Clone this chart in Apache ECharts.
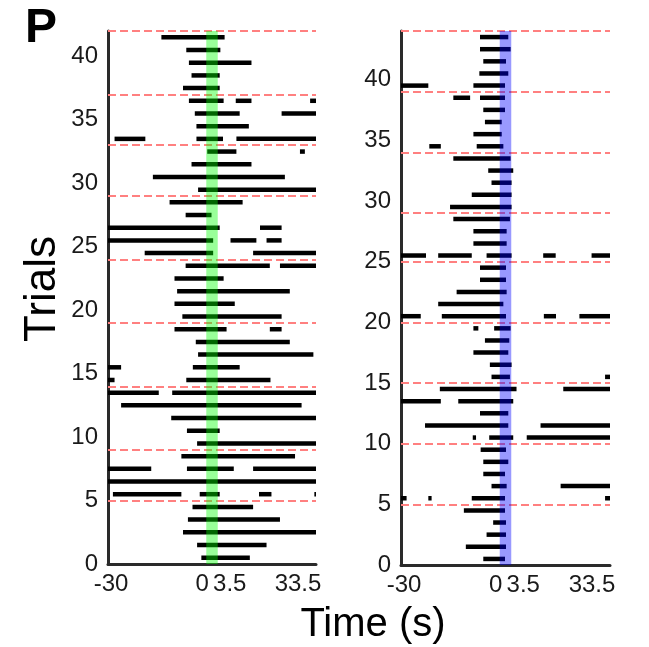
<!DOCTYPE html>
<html>
<head>
<meta charset="utf-8">
<script src="https://cdn.jsdelivr.net/npm/echarts@6/dist/echarts.min.js"></script>
<style>
  html, body {margin: 0; padding: 0; background: #fff;}
  #chart {width: 649px; height: 647px;}
</style>
</head>
<body>
<div id="chart"></div>
<script>
// 每行: [trial, start(s), end(s)]
const leftBouts = [
  [42, -13.7, 5.6],
  [41, -6.1, 4.3],
  [40, -5.3, 13.8],
  [39, -4.5, 4.1],
  [38, -7.1, 4.1],
  [37, -5.3, 5.3], [37, 9.0, 13.8], [37, 31.7, 33.5],
  [36, -3.5, 10.2], [36, 23.0, 33.5],
  [35, -3.0, 13.0],
  [34, -28.0, -18.6], [34, -3.0, 5.1], [34, 9.2, 33.5],
  [33, 0.3, 9.2], [33, 28.6, 30.1],
  [32, -4.5, 13.8],
  [31, -16.3, 24.0],
  [30, -2.5, 33.5],
  [29, -11.2, 11.1],
  [28, -6.3, 1.6],
  [27, -30, 4.1], [27, 16.4, 23.0],
  [26, -30, 2.1], [26, 7.4, 15.3], [26, 18.4, 23.0],
  [25, -18.8, 2.1], [25, 14.3, 33.5],
  [24, -6.3, 19.4], [24, 22.5, 33.5],
  [23, -9.7, 5.3],
  [22, -8.9, 25.5],
  [21, -9.7, 8.7],
  [20, -7.3, 23.0],
  [19, -9.7, 6.2], [19, 19.4, 23.0],
  [18, -3.2, 25.5],
  [17, -2.5, 32.7],
  [16, -30, -26.0], [16, -4.1, 10.2],
  [15, -30, -28.0], [15, -6.1, 19.6],
  [14, -30, -14.5], [14, -10.4, 33.5],
  [13, -26.0, 29.1],
  [12, -10.7, 33.5],
  [11, -5.9, 4.1],
  [10, -2.8, 33.5],
  [9, -7.6, 27.1],
  [8, -30, -16.8], [8, -5.9, 8.4], [8, 14.3, 33.5],
  [7, -30, 33.5],
  [6, -28.5, -7.6], [6, -2.0, 4.1], [6, 16.1, 19.9], [6, 33.0, 33.5],
  [5, -4.2, 14.3],
  [4, -5.6, 22.5],
  [3, -7.1, 33.5],
  [2, -2.8, 18.4],
  [1, -1.5, 13.3],
]

const rightBouts = [
  [44, -6.0, 2.6],
  [43, -6.0, 3.3],
  [42, -5.0, 1.9],
  [41, -6.2, 2.6],
  [40, -30, -21.7], [40, -8.0, 1.6],
  [39, -14.1, -9.0], [39, -6.0, 1.6],
  [38, -5.0, 1.6],
  [37, -4.5, 0.6],
  [36, -8.0, 0.6],
  [35, -21.4, -17.9], [35, -7.0, 1.1],
  [34, -14.1, 3.3],
  [33, -3.5, 4.1],
  [32, -2.5, 3.6],
  [31, -8.5, 3.6],
  [30, -15.1, 3.6],
  [29, -14.1, 3.1],
  [28, -8.0, 2.1],
  [27, -8.0, 2.1],
  [26, -30, -22.4], [26, -18.7, -8.5], [26, -4.0, 3.6], [26, 13.2, 17.0], [26, 27.9, 33.5],
  [25, -6.0, 1.9],
  [24, -6.0, 1.9],
  [23, -13.1, 2.1],
  [22, -18.7, 1.1],
  [21, -30, -24.0], [21, -17.6, 1.9], [21, 13.4, 17.1], [21, 24.2, 33.5],
  [20, -8.0, -6.5], [20, -1.7, 3.3],
  [19, -4.5, 2.9],
  [18, -8.0, 2.6],
  [17, -3.0, 3.6],
  [16, -2.5, 3.1], [16, 32.0, 33.5],
  [15, -18.2, 5.1], [15, 19.3, 33.5],
  [14, -30, -17.9], [14, -12.6, 4.1],
  [13, -6.0, 2.6],
  [12, -22.7, 2.6], [12, 12.4, 33.5],
  [11, -8.2, -7.2], [11, -3.2, 4.1], [11, 8.2, 33.5],
  [10, -5.8, 1.9],
  [9, -5.0, 2.6],
  [8, -5.0, 1.6],
  [7, -2.5, 2.1], [7, 18.5, 33.5],
  [6, -30, -28.3], [6, -21.7, -20.7], [6, -8.5, 1.6], [6, 32.0, 33.5],
  [5, -10.9, 1.6],
  [4, -2.0, 1.9],
  [3, -4.0, 1.9],
  [2, -10.3, 1.9],
  [1, -5.0, 1.6],
]

// 分组分隔线 (trial)
const leftBreaks = [5, 9, 14, 19, 24, 29, 33, 37, 42]
const rightBreaks = [5, 10, 15, 20, 25, 29, 34, 39, 44]

const stimWindow = [0, 3.5]
const xTicks = [-30, 0, 3.5, 33.5]
const yTicks = [0, 5, 10, 15, 20, 25, 30, 35, 40]
const xRange = [-30, 33.5]
const leftMaxTrial = 42
const rightMaxTrial = 44

const font = 'Liberation Sans'

//画每一段
const renderBout = function (params, api) {
  const y = api.value(0) - 0.5
  const p1 = api.coord([api.value(1), y])
  const p2 = api.coord([api.value(2), y])
  return {
    type: 'line',
    shape: {x1: p1[0], y1: p1[1], x2: p2[0], y2: p2[1]},
    style: {stroke: '#000', lineWidth: 4.5},
  }
}

//刺激窗口 (半透明)
const makeRenderBand = (color, maxTrial) => function (params, api) {
  const p1 = api.coord([api.value(0), maxTrial])
  const p2 = api.coord([api.value(1), 0])
  return {
    type: 'rect',
    shape: {x: p1[0], y: p1[1], width: p2[0] - p1[0], height: p2[1] - p1[1]},
    style: {fill: color},
  }
}

const xLabel = {
  customValues: xTicks,
  fontFamily: font,
  fontSize: 24,
  color: '#1a1a1a',
  margin: 8,
  formatter: function (v) {
    if (v === 0) return '{a|0}'
    if (v === 3.5) return '{b|3.5}'
    if (v === 33.5) return '{c|33.5}'
    return '{d|' + v + '}'
  },
  rich: {
    a: {fontFamily: font, fontSize: 24, color: '#1a1a1a', padding: [0, 8, 0, 0]},
    b: {fontFamily: font, fontSize: 24, color: '#1a1a1a', padding: [0, 0, 0, 24]},
    c: {fontFamily: font, fontSize: 24, color: '#1a1a1a', padding: [0, 36, 0, 0]},
    d: {fontFamily: font, fontSize: 24, color: '#1a1a1a', padding: [0, 0, 0, 6]},
  },
}

const makeXAxis = (gridIndex) => ({
  type: 'value',
  gridIndex,
  min: xRange[0],
  max: xRange[1],
  axisLine: {show: true, onZero: false, lineStyle: {color: '#2a2a2a', width: 3}},
  axisTick: {show: false},
  splitLine: {show: false},
  axisLabel: xLabel,
})

const makeYAxis = (gridIndex, max) => ({
  type: 'value',
  gridIndex,
  min: 0,
  max,
  interval: 5,
  axisLine: {show: true, onZero: false, lineStyle: {color: '#2a2a2a', width: 3}},
  axisTick: {show: false},
  splitLine: {show: false},
  axisLabel: {
    customValues: yTicks,
    fontFamily: font,
    fontSize: 24,
    color: '#1a1a1a',
    margin: 10,
  },
})

const breakSeries = (idx, breaks) => ({
  type: 'line',
  xAxisIndex: idx,
  yAxisIndex: idx,
  data: [],
  z: 3,
  markLine: {
    silent: true,
    symbol: ['none', 'none'],
    label: {show: false},
    lineStyle: {type: [8, 4], color: '#ff8080', width: 2},
    data: breaks.map(b => ({yAxis: b})),
  },
})

const chart = echarts.init(document.getElementById('chart'))

chart.setOption({
  backgroundColor: '#fff',
  animation: false,
  grid: [
    {left: 108, top: 31, width: 208, height: 533},
    {left: 401, top: 31, width: 209, height: 534},
  ],
  xAxis: [makeXAxis(0), makeXAxis(1)],
  yAxis: [makeYAxis(0, leftMaxTrial), makeYAxis(1, rightMaxTrial)],
  series: [
    breakSeries(0, leftBreaks),
    breakSeries(1, rightBreaks),
    {
      type: 'custom',
      xAxisIndex: 0,
      yAxisIndex: 0,
      z: 5,
      renderItem: renderBout,
      encode: {x: [1, 2], y: 0},
      data: leftBouts,
    },
    {
      type: 'custom',
      xAxisIndex: 1,
      yAxisIndex: 1,
      z: 5,
      renderItem: renderBout,
      encode: {x: [1, 2], y: 0},
      data: rightBouts,
    },
    {
      type: 'custom',
      xAxisIndex: 0,
      yAxisIndex: 0,
      z: 10,
      silent: true,
      renderItem: makeRenderBand('rgba(0, 255, 0, 0.4)', leftMaxTrial),
      encode: {x: [0, 1]},
      data: [stimWindow],
    },
    {
      type: 'custom',
      xAxisIndex: 1,
      yAxisIndex: 1,
      z: 10,
      silent: true,
      renderItem: makeRenderBand('rgba(0, 0, 255, 0.4)', rightMaxTrial),
      encode: {x: [0, 1]},
      data: [stimWindow],
    },
  ],
  graphic: [
    {
      type: 'text',
      left: 25,
      top: 5,
      style: {text: 'P', font: 'bold 48px "Liberation Sans"', fill: '#000'},
    },
    {
      type: 'text',
      x: 43,
      y: 289,
      rotation: Math.PI / 2,
      style: {
        text: 'Trials',
        font: '44px "Liberation Sans"',
        fill: '#000',
        align: 'center',
        verticalAlign: 'middle',
      },
    },
    {
      type: 'text',
      x: 373,
      y: 625,
      style: {
        text: 'Time (s)',
        font: '40px "Liberation Sans"',
        fill: '#000',
        align: 'center',
        verticalAlign: 'middle',
      },
    },
  ],
})
</script>
</body>
</html>
